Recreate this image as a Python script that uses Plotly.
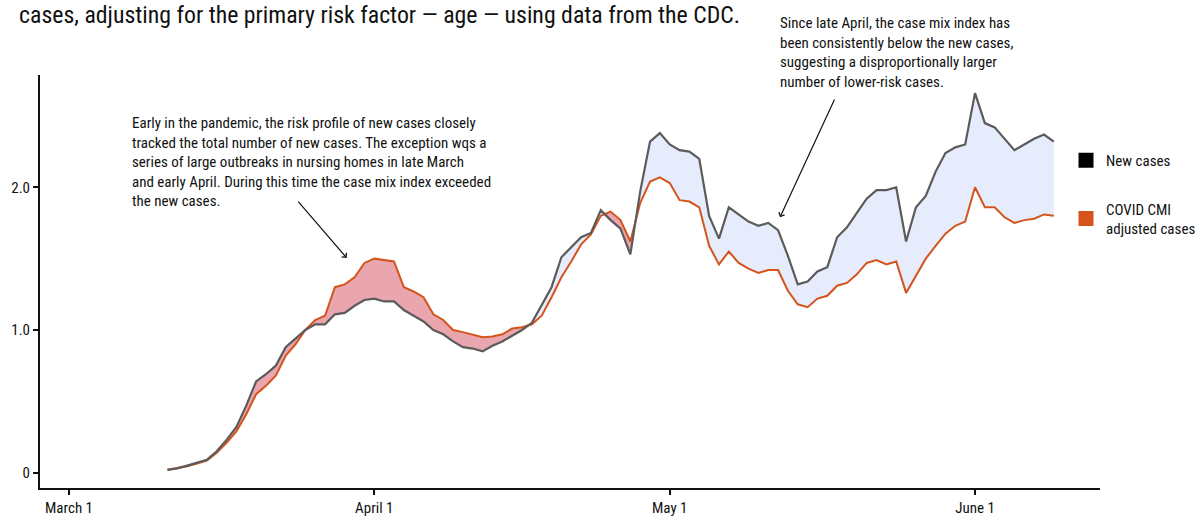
import numpy as np
import pandas as pd
import plotly.graph_objects as go

# ---------------- data ----------------
start_date = "2020-03-11"
end_date = "2020-06-09"

new_cases = [
    0.02, 0.03, 0.05, 0.07, 0.09, 0.15, 0.23, 0.32, 0.47, 0.64,
    0.69, 0.75, 0.88, 0.94, 1.00, 1.04, 1.04, 1.11, 1.12, 1.17,
    1.21, 1.22, 1.20, 1.20, 1.14, 1.10, 1.06, 1.00, 0.97, 0.92,
    0.88, 0.87, 0.85, 0.89, 0.92, 0.96, 1.00, 1.05, 1.18, 1.30,
    1.51, 1.58, 1.65, 1.68, 1.84, 1.77, 1.71, 1.53, 1.97, 2.32,
    2.38, 2.30, 2.26, 2.25, 2.20, 1.80, 1.64, 1.86, 1.81, 1.76,
    1.73, 1.75, 1.70, 1.52, 1.32, 1.34, 1.41, 1.44, 1.65, 1.72,
    1.82, 1.92, 1.98, 1.98, 2.00, 1.62, 1.86, 1.94, 2.11, 2.24,
    2.28, 2.30, 2.66, 2.45, 2.42, 2.34, 2.26, 2.30, 2.34, 2.37,
    2.32,
]

cmi_adjusted = [
    0.02, 0.03, 0.045, 0.065, 0.085, 0.14, 0.21, 0.29, 0.41, 0.55,
    0.61, 0.68, 0.82, 0.90, 1.00, 1.07, 1.10, 1.30, 1.32, 1.37,
    1.47, 1.50, 1.49, 1.48, 1.30, 1.27, 1.23, 1.11, 1.07, 1.00,
    0.985, 0.97, 0.95, 0.955, 0.97, 1.01, 1.02, 1.04, 1.10, 1.23,
    1.37, 1.48, 1.60, 1.67, 1.80, 1.83, 1.77, 1.62, 1.89, 2.04,
    2.07, 2.03, 1.91, 1.90, 1.86, 1.59, 1.46, 1.55, 1.47, 1.43,
    1.40, 1.42, 1.42, 1.275, 1.18, 1.16, 1.22, 1.24, 1.31, 1.33,
    1.39, 1.47, 1.49, 1.46, 1.48, 1.26, 1.38, 1.50, 1.59, 1.675,
    1.73, 1.76, 2.00, 1.86, 1.86, 1.79, 1.75, 1.77, 1.78, 1.81,
    1.80,
]

tick_dates = ["2020-03-01", "2020-04-01", "2020-05-01", "2020-06-01"]
tick_labels = ["March 1", "April 1", "May 1", "June 1"]
y_ticks = [0, 1.0, 2.0]
y_tick_labels = ["0", "1.0", "2.0"]

series_names = ["New cases", "COVID CMI<br>adjusted cases"]

title_text = "cases, adjusting for the primary risk factor \u2014 age \u2014 using data from the CDC."
note_early = ("Early in the pandemic, the risk profile of new cases closely<br>"
              "tracked the total number of new cases. The exception wqs a<br>"
              "series of large outbreaks in nursing homes in late March<br>"
              "and early April. During this time the case mix index exceeded<br>"
              "the new cases.")
note_late = ("Since late April, the case mix index has<br>"
             "been consistently below the new cases,<br>"
             "suggesting a disproportionally larger<br>"
             "number of lower-risk cases.")

# ---------------- style ----------------
FONT = "Liberation Sans Narrow, Roboto Condensed, Roboto, sans-serif"
GRAY = "#5b5b5b"
ORANGE = "#d4541b"
PINK = "#e9a6ae"
BLUE = "#e6ecfc"

W, H = 1202, 517
ML, MR, MT, MB = 40, 102, 75, 29
PW, PH = W - ML - MR, H - MT - MB


def px_x(p):
    return (p - ML) / PW


def px_y(p):
    return (H - MB - p) / PH


# ---------------- derived ----------------
dates = pd.date_range(start_date, end_date, freq="D")
origin = pd.Timestamp(tick_dates[0])
days = np.array((dates - origin).days, dtype=float)
g = np.array(new_cases, dtype=float)
c = np.array(cmi_adjusted, dtype=float)
tick_vals = [(pd.Timestamp(t) - origin).days for t in tick_dates]

# split the band between the two series at their crossings
pieces = []
cur = [(days[0], g[0], c[0])]
for i in range(len(days) - 1):
    d0 = c[i] - g[i]
    d1 = c[i + 1] - g[i + 1]
    if d0 * d1 < 0:
        t = d0 / (d0 - d1)
        xc = days[i] + t * (days[i + 1] - days[i])
        yc = g[i] + t * (g[i + 1] - g[i])
        cur.append((xc, yc, yc))
        pieces.append(cur)
        cur = [(xc, yc, yc)]
    cur.append((days[i + 1], g[i + 1], c[i + 1]))
pieces.append(cur)

fig = go.Figure()

for pc in pieces:
    xs = [p[0] for p in pc]
    gs = [p[1] for p in pc]
    cs = [p[2] for p in pc]
    diff = np.mean(np.array(cs) - np.array(gs))
    if abs(diff) < 1e-9:
        continue
    color = PINK if diff > 0 else BLUE
    fig.add_trace(go.Scatter(
        x=xs + xs[::-1], y=cs + gs[::-1],
        fill="toself", fillcolor=color, mode="lines",
        line=dict(width=0), hoverinfo="skip", showlegend=False))

fig.add_trace(go.Scatter(x=days, y=c, mode="lines",
                         line=dict(color=ORANGE, width=2),
                         showlegend=False, hoverinfo="skip"))
fig.add_trace(go.Scatter(x=days, y=g, mode="lines",
                         line=dict(color=GRAY, width=2.2),
                         showlegend=False, hoverinfo="skip"))

# legend entries
fig.add_trace(go.Scatter(x=[None], y=[None], mode="markers", name=series_names[0],
                         legendgroup="a",
                         marker=dict(symbol="square", size=15, color="black")))
fig.add_trace(go.Scatter(x=[None], y=[None], mode="markers", name=series_names[1],
                         legendgroup="b",
                         marker=dict(symbol="square", size=15, color=ORANGE)))

annotations = [
    dict(text=title_text, xref="paper", yref="paper", x=px_x(17), y=px_y(15),
         xanchor="left", yanchor="middle", showarrow=False,
         font=dict(family=FONT, size=23.8, color="#111")),
    dict(text=note_early, xref="paper", yref="paper", x=px_x(130), y=px_y(162),
         xanchor="left", yanchor="middle", align="left", showarrow=False,
         font=dict(family=FONT, size=15, color="#111")),
    dict(text=note_late, xref="paper", yref="paper", x=px_x(778), y=px_y(52),
         xanchor="left", yanchor="middle", align="left", showarrow=False,
         font=dict(family=FONT, size=15, color="#111")),
    dict(text="", x=28.2, y=1.505, ax=23.15, ay=1.91, xref="x", yref="y",
         axref="x", ayref="y", showarrow=True, arrowhead=4, arrowsize=1,
         arrowwidth=1.2, arrowcolor="#111"),
    dict(text="", x=72.2, y=1.79, ax=77.8, ay=2.626, xref="x", yref="y",
         axref="x", ayref="y", showarrow=True, arrowhead=4, arrowsize=1,
         arrowwidth=1.2, arrowcolor="#111"),
]

x0 = tick_vals[0] - (69 - ML) / 9.848
x1 = x0 + PW / 9.848
y_per_px = 1.0 / 142.7
ylo = -(H - MB - 472.7) * y_per_px
yhi = ylo + PH * y_per_px

fig.update_layout(
    width=W, height=H,
    margin=dict(l=ML, r=MR, t=MT, b=MB, pad=0, autoexpand=False),
    paper_bgcolor="white", plot_bgcolor="white",
    font=dict(family=FONT, size=15, color="#111"),
    annotations=annotations,
    showlegend=True,
    legend=dict(x=px_x(1066), y=px_y(144), xanchor="left", yanchor="top",
                tracegroupgap=26, font=dict(family=FONT, size=15, color="#111"),
                bgcolor="rgba(0,0,0,0)", itemclick=False),
    xaxis=dict(range=[x0, x1], tickvals=tick_vals, ticktext=tick_labels,
               showgrid=False, zeroline=False, showline=True, linecolor="#111",
               linewidth=2, ticks="outside", ticklen=5, tickwidth=1.5,
               tickcolor="#111", fixedrange=True, automargin=False,
               tickfont=dict(size=15)),
    yaxis=dict(range=[ylo, yhi], tickvals=y_ticks, ticktext=y_tick_labels,
               showgrid=False, zeroline=False, showline=True, linecolor="#111",
               linewidth=2, ticks="outside", ticklen=5, tickwidth=1.5,
               tickcolor="#111", fixedrange=True, automargin=False,
               tickfont=dict(size=15)),
)

fig.write_html("out.html", config={"displayModeBar": False},
               post_script="document.body.style.margin='0px';")
